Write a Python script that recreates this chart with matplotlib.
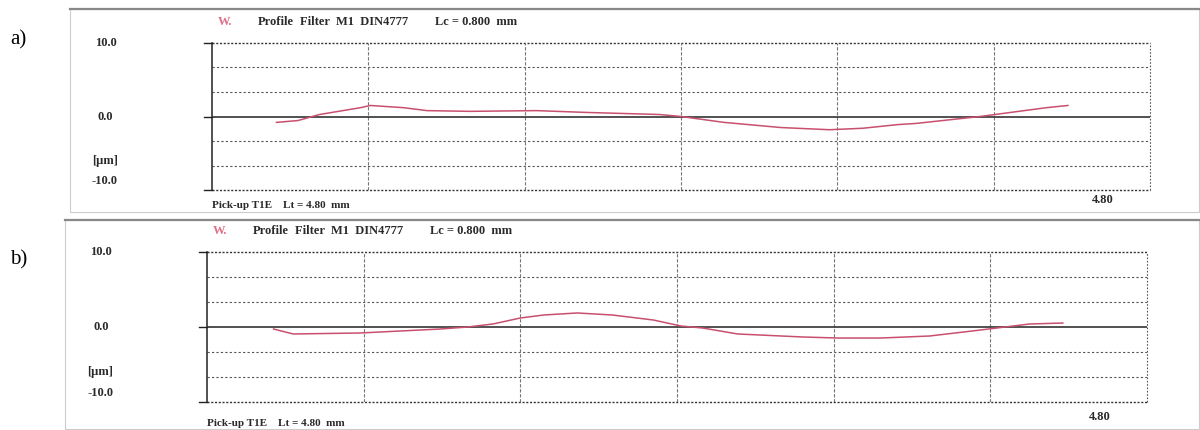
import matplotlib.pyplot as plt
from matplotlib.patches import Rectangle
from matplotlib.lines import Line2D

# roughness profile traces (position in mm, height in um)
pos_a = [0.33, 0.44, 0.55, 0.76, 0.81, 0.98, 1.10, 1.32, 1.66, 1.92, 2.29, 2.40,
         2.62, 2.91, 3.16, 3.33, 3.51, 3.60, 3.93, 4.27, 4.38]
height_a = [-0.8, -0.55, 0.27, 1.2, 1.5, 1.2, 0.8, 0.7, 0.8, 0.55, 0.27, 0.0,
            -0.8, -1.5, -1.8, -1.6, -1.1, -0.95, 0.0, 1.2, 1.5]

pos_b = [0.34, 0.44, 0.78, 0.99, 1.19, 1.33, 1.46, 1.60, 1.72, 1.89, 2.07, 2.28,
         2.42, 2.53, 2.71, 3.04, 3.22, 3.44, 3.69, 3.95, 4.20, 4.37]
height_b = [-0.27, -0.93, -0.8, -0.53, -0.27, 0.0, 0.4, 1.2, 1.6, 1.87, 1.6, 0.93,
            0.13, -0.13, -0.93, -1.33, -1.47, -1.47, -1.2, -0.4, 0.4, 0.53]

y_ticks = [10.0, 0.0, -10.0]
y_tick_labels = ["10.0", "0.0", "-10.0"]
x_grid = [0.8, 1.6, 2.4, 3.2, 4.0]
y_grid = [-6.67, -3.33, 3.33, 6.67]
length_mm = 4.80

header = ["W.", "Profile", "Filter  M1  DIN4777", "Lc = 0.800  mm"]
footer = ["Pick-up T1E", "Lt = 4.80  mm"]

W, H = 1200, 430
fig = plt.figure(figsize=(12, 4.3), dpi=100)
fig.patch.set_facecolor("white")

serif = "Liberation Serif"
ink = "#2a2a2a"
trace_color = "#c8506e"


def px(x, y):
    # pixel position (from top-left) -> figure fraction
    return x / W, 1 - y / H


def label(x, y, s, size=9, **kw):
    kw.setdefault("color", ink)
    fig.text(x / W, 1 - y / H, s, family=serif, weight="bold", fontsize=size,
             ha="left", va="center", **kw)


def panel(left, right, top, bottom, frame, pos, height, tag, tag_y, foot_dy):
    x0, y0 = px(left, bottom)
    x1, y1 = px(right, top)
    ax = fig.add_axes([x0, y0, x1 - x0, y1 - y0])
    ax.set_xlim(0, length_mm)
    ax.set_ylim(-10, 10)
    for s in ax.spines.values():
        s.set_visible(False)
    ax.set_xticks([])
    ax.set_yticks([])
    ax.patch.set_alpha(0)

    # grid
    for g in y_grid:
        ax.axhline(g, color="#555555", lw=0.8, ls=(0, (2, 2)), zorder=1)
    for g in [10, -10]:
        ax.axhline(g, color="#333333", lw=1.0, ls=(0, (1.5, 1.2)), zorder=1,
                   clip_on=False)
    for g in x_grid:
        ax.axvline(g, color="#777777", lw=0.8, ls=(0, (3, 1.5)), zorder=1)
    ax.axvline(length_mm, color="#555555", lw=0.8, ls=(0, (1.5, 1.5)), zorder=1,
               clip_on=False)
    ax.axvline(0, color="#222222", lw=1.1, zorder=2, clip_on=False)
    ax.axhline(0, color="#333333", lw=1.2, zorder=2)

    # left ticks
    for t in y_ticks:
        ax.plot([-0.04, 0], [t, t], color="#222222", lw=1.0, clip_on=False)

    ax.plot(pos, height, color=trace_color, lw=1.1, zorder=3)

    # y labels
    for t, lab in zip(y_ticks, y_tick_labels):
        yy = top + (10 - t) / 20 * (bottom - top)
        if t < 0:
            yy -= 9
        label(left - 117 + (3 if t == 0 else 0) - (3 if t < 0 else 0), yy, lab)
    label(left - 120, top + 0.8 * (bottom - top), "[\u00b5m]")

    # header
    hx = [left + 6, left + 46, left + 88, left + 223]
    for i, (xx, txt) in enumerate(zip(hx, header)):
        label(xx, top - 21, txt, color="#e0708a" if i == 0 else ink)
    # footer
    label(left, bottom + foot_dy, footer[0], size=8)
    label(left + 71, bottom + foot_dy, footer[1], size=8)
    label(right - 58, bottom + foot_dy - 6, "4.80", size=9)

    # panel frame
    fx0, fy0 = px(frame[0], frame[3])
    fx1, fy1 = px(frame[2], frame[1])
    fig.add_artist(Rectangle((fx0, fy0), fx1 - fx0, fy1 - fy0, fill=False,
                             transform=fig.transFigure, ec="#cccccc", lw=0.8))
    fig.add_artist(Line2D([fx0, fx1], [fy1, fy1], transform=fig.transFigure,
                          color="#888888", lw=1.6))
    fig.text(10 / W, 1 - tag_y / H, tag, family=serif, fontsize=15,
             ha="left", va="center", color="black")
    return ax


panel(212, 1150, 43, 190, (70, 9, 1199, 212), pos_a, height_a, "a)", 40, 16)
panel(207, 1147, 252, 402, (65, 220, 1199, 429), pos_b, height_b, "b)", 260, 21)

fig.savefig("out.png", dpi=100, facecolor="white")
